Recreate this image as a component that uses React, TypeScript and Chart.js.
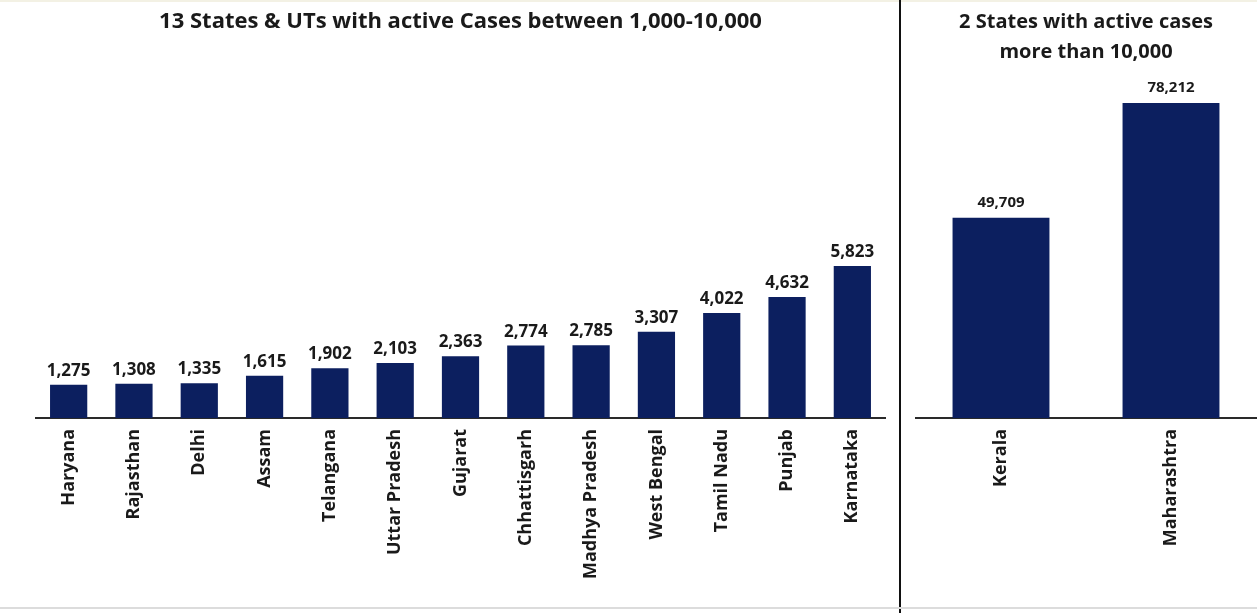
import React, { useEffect, useRef } from "react";
import { Chart, registerables } from "chart.js";

Chart.register(...registerables);

// ---- Data ----
const midStates = [
  "Haryana", "Rajasthan", "Delhi", "Assam", "Telangana", "Uttar Pradesh", "Gujarat",
  "Chhattisgarh", "Madhya Pradesh", "West Bengal", "Tamil Nadu", "Punjab", "Karnataka",
];
const midValues = [1275, 1308, 1335, 1615, 1902, 2103, 2363, 2774, 2785, 3307, 4022, 4632, 5823];
const midTitle = "13 States & UTs with active Cases between 1,000-10,000";

const highStates = ["Kerala", "Maharashtra"];
const highValues = [49709, 78212];
const highTitle = ["2 States with active cases", "more than 10,000"];

const BAR_COLOR = "#0c1f5f";
const TEXT_COLOR = "#1a1a1a";
const FONT = "'Open Sans', 'Noto Sans', sans-serif";

type Cfg = {
  labels: string[];
  values: number[];
  yMax: number;
  title: string | string[];
  titleSize: number;
  titleLineHeight: number;
  titlePad: { top: number; bottom: number };
  padLeft: number;
  padRight: number;
  valueSize: number;
  valueOffset: number;
  tickSize: number;
  axisBottom: number;
  height: number;
};

function valueLabelPlugin(size: number, offset: number) {
  return {
    id: "valueLabels",
    afterDatasetsDraw(chart: any) {
      const ctx = chart.ctx;
      const meta = chart.getDatasetMeta(0);
      const data = chart.data.datasets[0].data as number[];
      ctx.save();
      ctx.font = `bold ${size}px ${FONT}`;
      ctx.fillStyle = TEXT_COLOR;
      ctx.textAlign = "center";
      ctx.textBaseline = "alphabetic";
      meta.data.forEach((el: any, i: number) => {
        ctx.fillText(data[i].toLocaleString("en-US"), el.x, el.y - offset);
      });
      ctx.restore();
    },
  };
}

function makeConfig(c: Cfg): any {
  return {
    type: "bar",
    data: {
      labels: c.labels,
      datasets: [
        {
          data: c.values,
          backgroundColor: BAR_COLOR,
          borderWidth: 0,
          barPercentage: 0.57,
          categoryPercentage: 1,
        },
      ],
    },
    options: {
      responsive: false,
      animation: false,
      events: [],
      layout: { padding: { left: c.padLeft, right: c.padRight, top: 0, bottom: 0 } },
      plugins: {
        legend: { display: false },
        tooltip: { enabled: false },
        title: {
          display: true,
          text: c.title,
          color: TEXT_COLOR,
          font: { family: FONT, size: c.titleSize, weight: "bold", lineHeight: c.titleLineHeight },
          padding: c.titlePad,
        },
      },
      scales: {
        x: {
          grid: { display: false, drawTicks: false },
          border: { display: true, color: "#2a2a2a", width: 2 },
          ticks: {
            autoSkip: false,
            maxRotation: 90,
            minRotation: 90,
            padding: 11,
            color: TEXT_COLOR,
            font: { family: FONT, size: c.tickSize, weight: "bold" },
          },
          afterFit: (scale: any) => {
            scale.height = c.height - c.axisBottom;
          },
        },
        y: {
          display: false,
          min: 0,
          max: c.yMax,
        },
      },
    },
    plugins: [valueLabelPlugin(c.valueSize, c.valueOffset)],
  };
}

function BarChart({ cfg, width, height }: { cfg: Cfg; width: number; height: number }) {
  const ref = useRef<HTMLCanvasElement | null>(null);
  useEffect(() => {
    if (!ref.current) return;
    const chart = new Chart(ref.current, makeConfig(cfg));
    return () => chart.destroy();
  }, [cfg]);
  return <canvas ref={ref} width={width} height={height} style={{ display: "block" }} />;
}

const H = 613;

const leftCfg: Cfg = {
  labels: midStates,
  values: midValues,
  yMax: 14000,
  title: midTitle,
  titleSize: 22,
  titleLineHeight: 1.2,
  titlePad: { top: 8.8, bottom: 17.4 },
  padLeft: 36,
  padRight: 15,
  valueSize: 17,
  valueOffset: 9,
  tickSize: 18,
  axisBottom: 418,
  height: H,
};

const rightCfg: Cfg = {
  labels: highStates,
  values: highValues,
  yMax: 85000,
  title: highTitle,
  titleSize: 20,
  titleLineHeight: 1.5,
  titlePad: { top: 7, bottom: 8.6 },
  padLeft: 14,
  padRight: 1,
  valueSize: 15,
  valueOffset: 11,
  tickSize: 18,
  axisBottom: 418,
  height: H,
};

export default function App() {
  return (
    <div
      style={{
        position: "absolute",
        left: 0,
        top: 0,
        width: 1257,
        height: H,
        background: "#ffffff",
        overflow: "hidden",
      }}
    >
      <div style={{ position: "absolute", left: 0, top: 0, width: 1257, height: 2, background: "#f3f1e4" }} />
      <div style={{ position: "absolute", left: 0, top: 0 }}>
        <BarChart cfg={leftCfg} width={900} height={H} />
      </div>
      <div style={{ position: "absolute", left: 902, top: 0 }}>
        <BarChart cfg={rightCfg} width={355} height={H} />
      </div>
      <div style={{ position: "absolute", left: 899, top: 0, width: 2, height: H, background: "#111" }} />
      <div style={{ position: "absolute", left: 0, top: 607, width: 1257, height: 2, background: "#dcdcdc" }} />
    </div>
  );
}
